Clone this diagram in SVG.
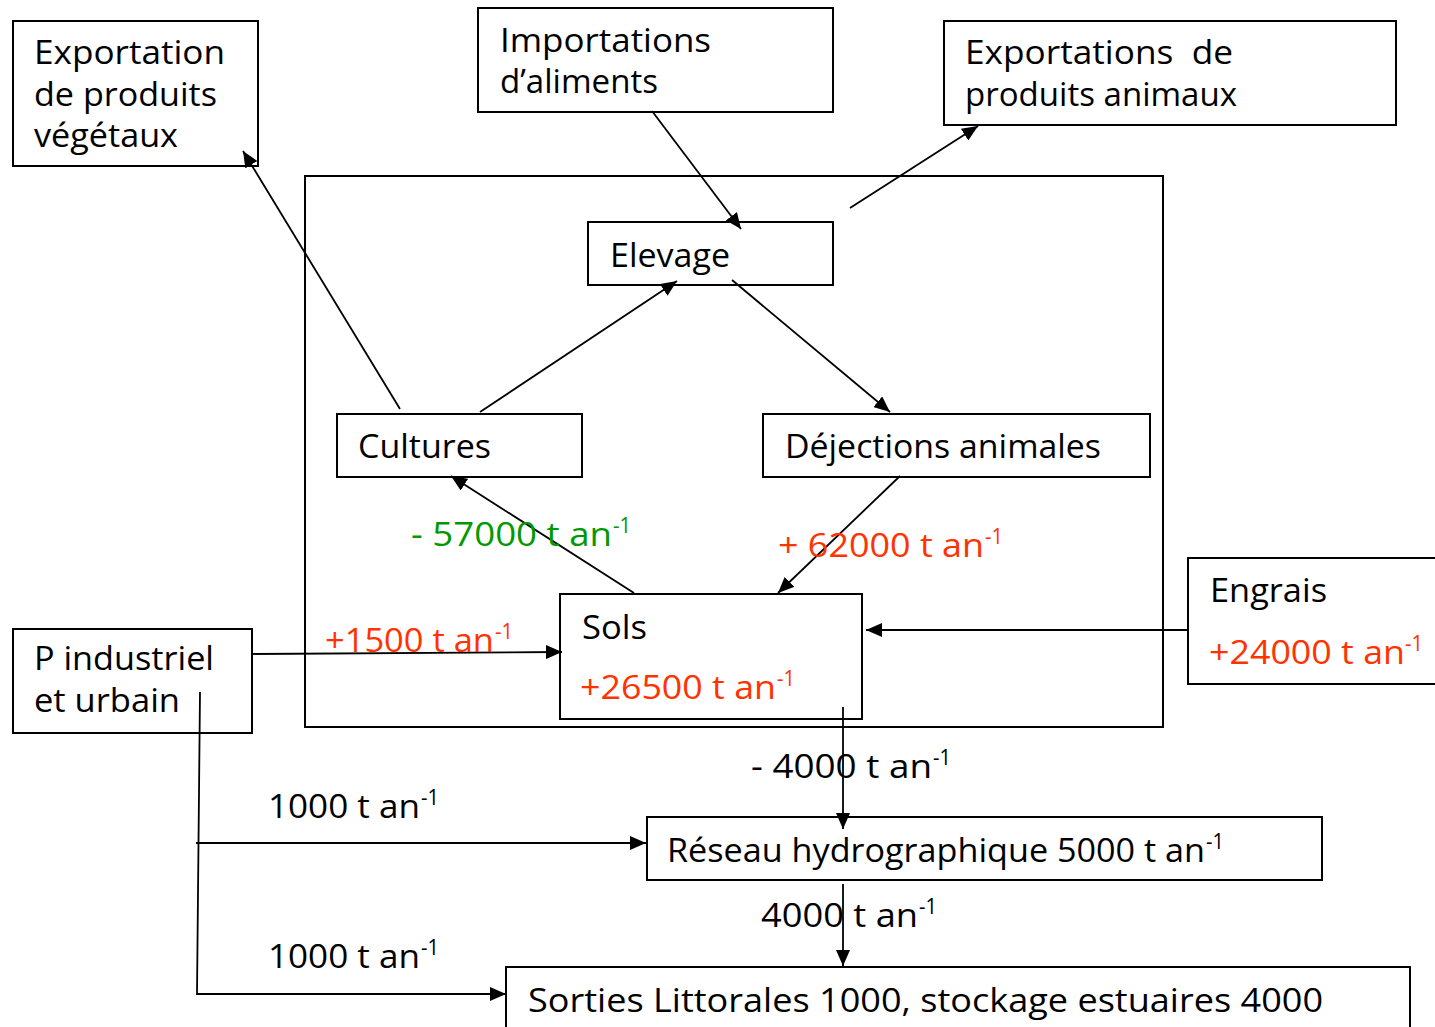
<svg xmlns="http://www.w3.org/2000/svg" width="1435" height="1027" viewBox="0 0 1435 1027">
<style>
  .box { fill: none; stroke: #000; stroke-width: 2; }
  .frame { fill: none; stroke: #000; stroke-width: 2; }
  .t { font-family: "Open Sans", "Noto Sans", "DejaVu Sans", sans-serif; font-size: 32px; fill: #000; }
  .s { font-family: "Open Sans", "Noto Sans", "DejaVu Sans", sans-serif; font-size: 21px; }
  .red { fill: #ff3300; }
  .green { fill: #009900; }
  .blk { fill: #000; }
  .ln { stroke: #000; stroke-width: 1.8; fill: none; }
  .arr { marker-end: url(#ah); }
</style>
<defs>
  <marker id="ah" markerUnits="userSpaceOnUse" markerWidth="16" markerHeight="14" refX="16" refY="7" orient="auto">
    <path d="M0,0 L16,7 L0,14 Z" fill="#000"/>
  </marker>
</defs>
<rect width="1435" height="1027" fill="#fff"/>

<rect id="systeme" class="frame" x="305" y="176" width="858" height="551"/>

<g id="connectors">
  <line class="ln arr" x1="400" y1="409" x2="243" y2="151"/>
  <line class="ln arr" x1="652" y1="111" x2="741" y2="229"/>
  <line class="ln arr" x1="850" y1="208" x2="978" y2="126"/>
  <line class="ln arr" x1="480" y1="412" x2="677" y2="281"/>
  <line class="ln arr" x1="732" y1="280" x2="890" y2="412"/>
  <line class="ln arr" x1="634" y1="593" x2="451" y2="476"/>
  <line class="ln arr" x1="900" y1="476" x2="778" y2="593"/>
  <line class="ln arr" x1="252" y1="654" x2="562" y2="652"/>
  <line class="ln arr" x1="1188" y1="630" x2="866" y2="630"/>
  <line class="ln arr" x1="843" y1="707" x2="843" y2="829"/>
  <line class="ln arr" x1="843" y1="884" x2="843" y2="966"/>
  <polyline class="ln arr" points="200,692 197,994 506,994"/>
  <line class="ln arr" x1="196" y1="843" x2="646" y2="843"/>
</g>

<g id="export-vegetaux">
  <rect class="box" x="13" y="21" width="245" height="145"/>
  <text class="t" x="34" y="64" textLength="191" lengthAdjust="spacingAndGlyphs">Exportation</text>
  <text class="t" x="34" y="106" textLength="183" lengthAdjust="spacingAndGlyphs">de produits</text>
  <text class="t" x="34" y="147" textLength="144" lengthAdjust="spacingAndGlyphs">végétaux</text>
</g>

<g id="importations">
  <rect class="box" x="478" y="8" width="355" height="104"/>
  <text class="t" x="500" y="52" textLength="211" lengthAdjust="spacingAndGlyphs">Importations</text>
  <text class="t" x="500" y="93" textLength="158" lengthAdjust="spacingAndGlyphs">d’aliments</text>
</g>

<g id="export-animaux">
  <rect class="box" x="944" y="21" width="452" height="104"/>
  <text class="t" x="965" y="64" textLength="268" lengthAdjust="spacingAndGlyphs" xml:space="preserve">Exportations  de</text>
  <text class="t" x="965" y="106" textLength="272" lengthAdjust="spacingAndGlyphs">produits animaux</text>
</g>

<g id="elevage">
  <rect class="box" x="588" y="222" width="245" height="63"/>
  <text class="t" x="610" y="267" textLength="120" lengthAdjust="spacingAndGlyphs">Elevage</text>
</g>

<g id="cultures">
  <rect class="box" x="337" y="414" width="245" height="63"/>
  <text class="t" x="358" y="458" textLength="133" lengthAdjust="spacingAndGlyphs">Cultures</text>
</g>

<g id="dejections">
  <rect class="box" x="763" y="414" width="387" height="63"/>
  <text class="t" x="785" y="458" textLength="316" lengthAdjust="spacingAndGlyphs">Déjections animales</text>
</g>

<g id="sols">
  <rect class="box" x="560" y="594" width="302" height="125"/>
  <text class="t" x="582" y="639" textLength="65" lengthAdjust="spacingAndGlyphs">Sols</text>
  <text class="t red" x="580" y="699" textLength="196" lengthAdjust="spacingAndGlyphs">+26500 t an</text>
  <text class="s red" x="777" y="686" textLength="18" lengthAdjust="spacingAndGlyphs">-1</text>
</g>

<g id="engrais">
  <rect class="box" x="1188" y="558" width="252" height="126"/>
  <text class="t" x="1210" y="602" textLength="117" lengthAdjust="spacingAndGlyphs">Engrais</text>
  <text class="t red" x="1209" y="664" textLength="196" lengthAdjust="spacingAndGlyphs">+24000 t an</text>
  <text class="s red" x="1405" y="651" textLength="18" lengthAdjust="spacingAndGlyphs">-1</text>
</g>

<g id="p-industriel">
  <rect class="box" x="13" y="629" width="239" height="104"/>
  <text class="t" x="34" y="670" textLength="180" lengthAdjust="spacingAndGlyphs">P industriel</text>
  <text class="t" x="34" y="712" textLength="146" lengthAdjust="spacingAndGlyphs">et urbain</text>
</g>

<g id="reseau">
  <rect class="box" x="647" y="817" width="675" height="63"/>
  <text class="t" x="667" y="862" textLength="538" lengthAdjust="spacingAndGlyphs">Réseau hydrographique 5000 t an</text>
  <text class="s blk" x="1206" y="849" textLength="18" lengthAdjust="spacingAndGlyphs">-1</text>
</g>

<g id="sorties">
  <rect class="box" x="506" y="967" width="904" height="70"/>
  <text class="t" x="528" y="1012" textLength="795" lengthAdjust="spacingAndGlyphs">Sorties Littorales 1000, stockage estuaires 4000</text>
</g>

<g id="labels">
  <text class="t green" x="411" y="546" textLength="201" lengthAdjust="spacingAndGlyphs">- 57000 t an</text>
  <text class="s green" x="613" y="533" textLength="18" lengthAdjust="spacingAndGlyphs">-1</text>
  <text class="t red" x="778" y="557" textLength="206" lengthAdjust="spacingAndGlyphs">+ 62000 t an</text>
  <text class="s red" x="985" y="544" textLength="18" lengthAdjust="spacingAndGlyphs">-1</text>
  <text class="t red" x="325" y="652" textLength="169" lengthAdjust="spacingAndGlyphs">+1500 t an</text>
  <text class="s red" x="495" y="639" textLength="18" lengthAdjust="spacingAndGlyphs">-1</text>
  <text class="t" x="751" y="778" textLength="181" lengthAdjust="spacingAndGlyphs">- 4000 t an</text>
  <text class="s blk" x="933" y="765" textLength="18" lengthAdjust="spacingAndGlyphs">-1</text>
  <text class="t" x="268" y="818" textLength="152" lengthAdjust="spacingAndGlyphs">1000 t an</text>
  <text class="s blk" x="421" y="805" textLength="18" lengthAdjust="spacingAndGlyphs">-1</text>
  <text class="t" x="761" y="927" textLength="157" lengthAdjust="spacingAndGlyphs">4000 t an</text>
  <text class="s blk" x="919" y="914" textLength="18" lengthAdjust="spacingAndGlyphs">-1</text>
  <text class="t" x="268" y="968" textLength="152" lengthAdjust="spacingAndGlyphs">1000 t an</text>
  <text class="s blk" x="421" y="955" textLength="18" lengthAdjust="spacingAndGlyphs">-1</text>
</g>
</svg>
